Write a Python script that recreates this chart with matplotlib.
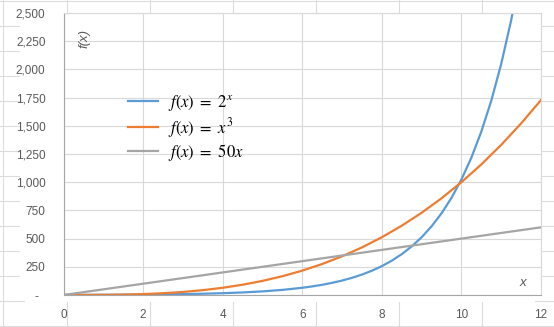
import matplotlib
matplotlib.use("Agg")
import matplotlib.pyplot as plt
from matplotlib.lines import Line2D
from matplotlib.patches import Rectangle
from matplotlib.ticker import FuncFormatter

# data
x_pow = [0, 0.5, 1, 1.5, 2, 2.5, 3, 3.5, 4, 4.5, 5, 5.5, 6, 6.25, 6.5, 6.75, 7,
         7.25, 7.5, 7.75, 8, 8.25, 8.5, 8.75, 9, 9.25, 9.5, 9.75, 10, 10.25,
         10.5, 10.75, 11, 11.25, 11.5]
pow2 = [1, 1.41, 2, 2.83, 4, 5.66, 8, 11.3, 16, 22.6, 32, 45.3, 64, 76.1, 90.5,
        107.6, 128, 152.2, 181, 215.3, 256, 304.4, 362, 430.5, 512, 608.9,
        724.1, 861.1, 1024, 1217.7, 1448.2, 1722.2, 2048, 2435.5, 2896.3]
x = [0, 0.5, 1, 1.5, 2, 2.5, 3, 3.5, 4, 4.5, 5, 5.5, 6, 6.5, 7, 7.5, 8, 8.5,
     9, 9.5, 10, 10.5, 11, 11.5, 12]
cube = [0, 0.125, 1, 3.38, 8, 15.6, 27, 42.9, 64, 91.1, 125, 166.4, 216, 274.6,
        343, 421.9, 512, 614.1, 729, 857.4, 1000, 1157.6, 1331, 1520.9, 1728]
lin = [0, 25, 50, 75, 100, 125, 150, 175, 200, 225, 250, 275, 300, 325, 350,
       375, 400, 425, 450, 475, 500, 525, 550, 575, 600]
labels = [r"$f(x)\ =\ 2^{x}$", r"$f(x)\ =\ x^{3}$", r"$f(x)\ =\ 50x$"]
colors = ["#5b9bd5", "#ed7d31", "#a5a5a5"]
xticks = [0, 2, 4, 6, 8, 10, 12]
yticks = [0, 250, 500, 750, 1000, 1250, 1500, 1750, 2000, 2250, 2500]

W, H = 554, 327
plt.rcParams["font.family"] = ["Liberation Sans", "DejaVu Sans"]
plt.rcParams["mathtext.fontset"] = "stix"

fig = plt.figure(figsize=(W / 100, H / 100), dpi=100)

def fx(px):
    return px / W

def fy(py):
    return 1 - py / H

# spreadsheet cell grid behind the chart
sheet = "#dcdcdc"
for py in [0.5, 25.5, 50.5, 75.5, 100.5, 125.5, 150.5, 175.5, 200.5, 225.5,
           250.5, 275.5, 300.5, 325.5]:
    fig.add_artist(Line2D([0, 1], [fy(py), fy(py)], color=sheet, lw=0.8, zorder=0))
for px in [3.5, 66.5, 149.5, 232.5, 315.5, 398.5, 481.5]:
    fig.add_artist(Line2D([fx(px), fx(px)], [0, 1], color=sheet, lw=0.8, zorder=0))
fig.add_artist(Rectangle((fx(20), fy(301)), fx(63.5) - fx(20), fy(13) - fy(301),
                         facecolor="white", edgecolor="none", zorder=0.5))
fig.add_artist(Rectangle((fx(25), fy(301.5)), fx(535) - fx(25), fy(295) - fy(301.5),
                         facecolor="white", edgecolor="none", zorder=0.5))

ax = fig.add_axes([fx(63.5), fy(295), fx(541) - fx(63.5), fy(13) - fy(295)])
ax.set_zorder(2)

for xs, y, lab, c in zip([x_pow, x, x], [pow2, cube, lin], labels, colors):
    ax.plot(xs, y, color=c, lw=1.6, label=lab)

ax.set_xlim(0, 12)
ax.set_ylim(0, 2500)
ax.set_xticks(xticks)
ax.set_yticks(yticks)
ax.yaxis.set_major_formatter(FuncFormatter(lambda v, p: "-  " if v == 0 else f"{v:,.0f}"))
ax.grid(True, color="#d9d9d9", lw=0.8)
ax.set_axisbelow(True)
ax.tick_params(length=0, labelsize=8.5, labelcolor="#595959")
ax.tick_params(axis="y", pad=13)
ax.tick_params(axis="x", pad=10)
for s in ["top", "right"]:
    ax.spines[s].set_color("#d9d9d9")
for s in ["left", "bottom"]:
    ax.spines[s].set_color("#a6a6a6")
for s in ax.spines.values():
    s.set_linewidth(0.8)

ax.text(fx(85), fy(38), "f(x)", transform=fig.transFigure, rotation=90,
        style="italic", color="#595959", fontsize=9.5, ha="center", va="center")
ax.text(fx(523), fy(283), "x", transform=fig.transFigure,
        style="italic", color="#595959", fontsize=9.5, ha="center", va="center")

ax.legend(loc="upper left", bbox_to_anchor=(fx(120), fy(85)),
          bbox_transform=fig.transFigure, frameon=False, fontsize=12,
          handlelength=1.8, handletextpad=0.6, labelspacing=0.15, borderpad=0)

fig.savefig("out.png", dpi=100)
